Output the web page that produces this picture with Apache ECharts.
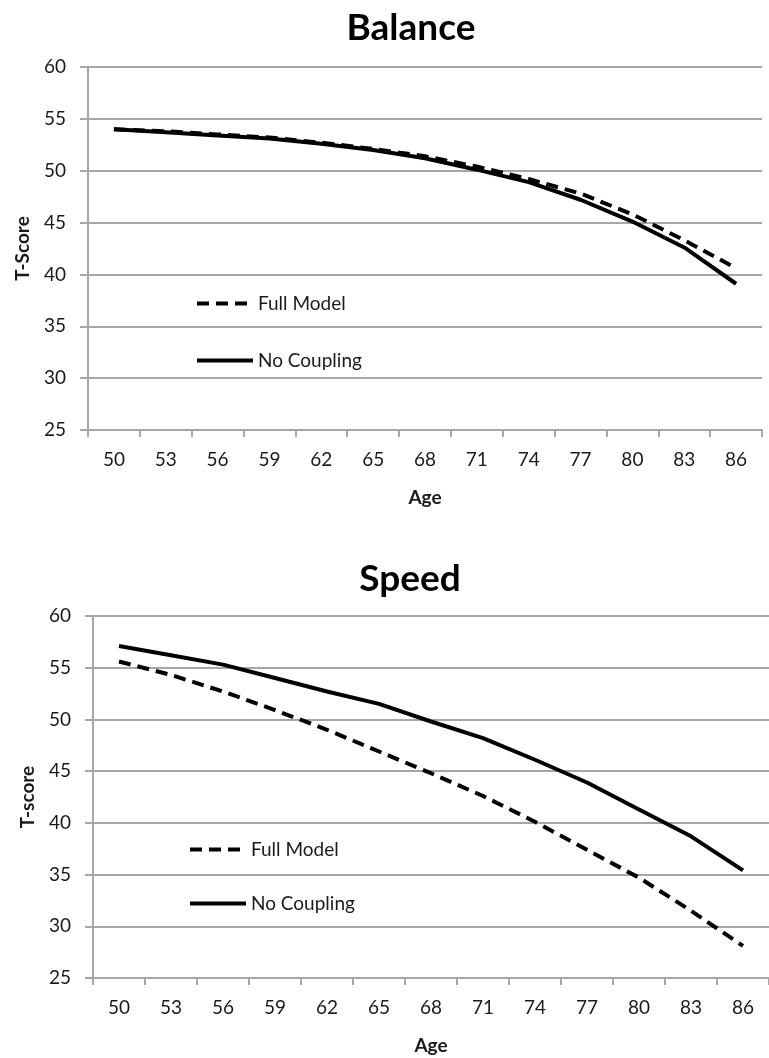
<!DOCTYPE html>
<html>
<head>
<meta charset="utf-8">
<script src="https://cdn.jsdelivr.net/npm/echarts@6/dist/echarts.min.js"></script>
<style>
html,body{margin:0;padding:0;background:#fff;}
#chart{width:769px;height:1058px;}
</style>
</head>
<body>
<div id="chart"></div>
<script>
const ages = ['50','53','56','59','62','65','68','71','74','77','80','83','86'];
const balanceFull       = [54.0, 53.8, 53.5, 53.2, 52.7, 52.1, 51.4, 50.4, 49.2, 47.8, 45.8, 43.3, 40.6];
const balanceNoCoupling = [54.0, 53.7, 53.4, 53.1, 52.6, 52.0, 51.2, 50.1, 48.9, 47.2, 45.1, 42.6, 39.1];
const speedFull         = [55.6, 54.3, 52.7, 50.9, 49.0, 46.9, 44.8, 42.6, 40.1, 37.4, 34.7, 31.5, 28.1];
const speedNoCoupling   = [57.1, 56.2, 55.3, 54.0, 52.7, 51.5, 49.8, 48.2, 46.1, 43.9, 41.3, 38.7, 35.4];
const yMin = 25, yMax = 60, yStep = 5;
const titles = ['Balance', 'Speed'];
const yNames = ['T-Score', 'T-score'];
const xName = 'Age';
const seriesNames = ['Full Model', 'No Coupling'];

const FONT = 'Lato';
const TXT = '#1a1a1a';
const GRID = '#a6a6a6';

function xAxisCfg(gi){
  return {
    type:'category', gridIndex:gi, data:ages, boundaryGap:true,
    name:xName, nameLocation:'middle', nameGap:58,
    nameTextStyle:{fontFamily:FONT,fontWeight:'bold',fontSize:19,color:TXT},
    axisLine:{show:true,lineStyle:{color:GRID,width:2}},
    axisTick:{show:true,length:7,lineStyle:{color:GRID,width:2}},
    axisLabel:{margin:20,fontFamily:FONT,fontSize:19,color:TXT},
    splitLine:{show:false}
  };
}
function yAxisCfg(gi){
  return {
    type:'value', gridIndex:gi, min:yMin, max:yMax, interval:yStep,
    name:yNames[gi], nameLocation:'middle', nameGap:56, nameRotate:90,
    nameTextStyle:{fontFamily:FONT,fontWeight:'bold',fontSize:19,color:TXT},
    axisLine:{show:true,lineStyle:{color:GRID,width:2}},
    axisTick:{show:true,length:8,lineStyle:{color:GRID,width:2}},
    axisLabel:{margin:22,fontFamily:FONT,fontSize:19,color:TXT},
    splitLine:{show:true,lineStyle:{color:GRID,width:2}}
  };
}
function lineSeries(name, data, gi, dashed){
  return {
    type:'line', name:name, data:data, xAxisIndex:gi, yAxisIndex:gi,
    symbol:'none', silent:true,
    lineStyle:{color:'#000',width:4,type:dashed?[12,7]:'solid',cap:'butt'},
    itemStyle:{color:'#000'}
  };
}
function legendCfg(left, top, gap){
  return {
    data:seriesNames, orient:'vertical', left:left, top:top,
    itemWidth:56, itemHeight:14, itemGap:gap, selectedMode:false,
    lineStyle:{width:4, type:'inherit'},
    itemStyle:{opacity:0},
    textStyle:{fontFamily:FONT,fontSize:19,color:TXT}
  };
}

const chart = echarts.init(document.getElementById('chart'), null, {renderer:'canvas'});
chart.setOption({
  animation:false,
  backgroundColor:'#fff',
  title:[
    {text:titles[0], left:406, top:5, textAlign:'center',
     textStyle:{fontFamily:FONT,fontWeight:'bold',fontSize:37,color:'#000'}},
    {text:titles[1], left:405, top:556, textAlign:'center',
     textStyle:{fontFamily:FONT,fontWeight:'bold',fontSize:37,color:'#000'}}
  ],
  grid:[
    {left:88, top:67, width:674, height:363, containLabel:false},
    {left:93, top:616, width:682, height:362, containLabel:false}
  ],
  legend:[ legendCfg(190, 289, 38), legendCfg(183, 835, 35) ],
  xAxis:[ xAxisCfg(0), xAxisCfg(1) ],
  yAxis:[ yAxisCfg(0), yAxisCfg(1) ],
  series:[
    lineSeries(seriesNames[0], balanceFull, 0, true),
    lineSeries(seriesNames[1], balanceNoCoupling, 0, false),
    lineSeries(seriesNames[0], speedFull, 1, true),
    lineSeries(seriesNames[1], speedNoCoupling, 1, false)
  ]
});
</script>
</body>
</html>
